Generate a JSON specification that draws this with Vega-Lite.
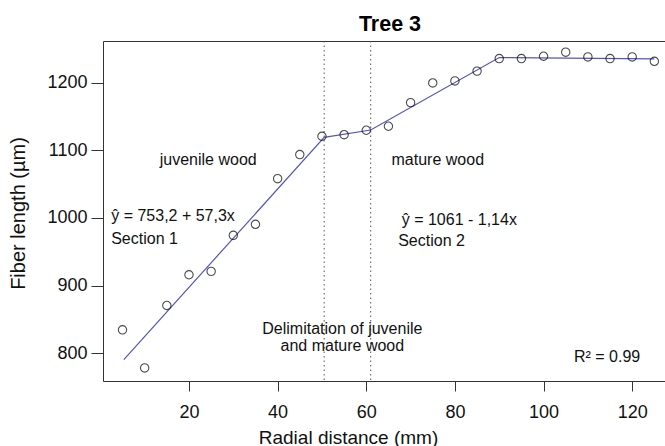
{
  "$schema": "https://vega.github.io/schema/vega-lite/v6.json",
  "width": 562,
  "height": 340,
  "autosize": {"type": "none"},
  "padding": {"left": 103, "top": 41, "right": 0, "bottom": 65},
  "background": "white",
  "config": {"view": {"stroke": null}, "font": "Liberation Sans"},
  "title": {"text": "Tree 3", "fontSize": 21.5, "fontWeight": "bold", "font": "Liberation Sans", "color": "black", "anchor": "middle", "baseline": "alphabetic", "offset": -12, "dx": 6},
  "datasets": {
    "points": [
      {"dist": 5, "fiber": 834.6}, {"dist": 10, "fiber": 778.3}, {"dist": 15, "fiber": 870.6},
      {"dist": 20, "fiber": 916}, {"dist": 25, "fiber": 921}, {"dist": 30, "fiber": 974.3},
      {"dist": 35, "fiber": 990.6}, {"dist": 40, "fiber": 1058}, {"dist": 45, "fiber": 1093.6},
      {"dist": 50, "fiber": 1120.7}, {"dist": 55, "fiber": 1123}, {"dist": 60, "fiber": 1129.6},
      {"dist": 65, "fiber": 1135.5}, {"dist": 70, "fiber": 1170.4}, {"dist": 75, "fiber": 1199.5},
      {"dist": 80, "fiber": 1202.5}, {"dist": 85, "fiber": 1217}, {"dist": 90, "fiber": 1235.5},
      {"dist": 95, "fiber": 1235.5}, {"dist": 100, "fiber": 1239}, {"dist": 105, "fiber": 1245},
      {"dist": 110, "fiber": 1238}, {"dist": 115, "fiber": 1235.5}, {"dist": 120, "fiber": 1238},
      {"dist": 125, "fiber": 1231.5}
    ],
    "fit": [
      {"dist": 5.3, "fiber": 790.6}, {"dist": 50.5, "fiber": 1119}, {"dist": 61, "fiber": 1130},
      {"dist": 90, "fiber": 1237}, {"dist": 125, "fiber": 1235}
    ],
    "delim": [{"dist": 50.5}, {"dist": 61}],
    "notesLeft": [
      {"dist": 13.4, "fiber": 1077.8, "label": "juvenile  wood"},
      {"dist": 65.7, "fiber": 1077.8, "label": "mature wood"},
      {"dist": 2.45, "fiber": 995.6, "label": "ŷ = 753,2 + 57,3x"},
      {"dist": 2.45, "fiber": 962, "label": "Section 1"},
      {"dist": 68, "fiber": 989, "label": "ŷ = 1061 - 1,14x"},
      {"dist": 67.2, "fiber": 958, "label": "Section 2"}
    ],
    "notesCenter": [
      {"dist": 54.6, "fiber": 828, "label": "Delimitation of juvenile"},
      {"dist": 54.6, "fiber": 804, "label": "and mature wood"}
    ],
    "notesRight": [
      {"dist": 121.8, "fiber": 786.7, "label": "R² = 0.99"}
    ]
  },
  "resolve": {"axis": {"x": "independent", "y": "independent"}},
  "layer": [
    {
      "data": {"name": "delim"},
      "mark": {"type": "rule", "color": "#555555", "strokeWidth": 1, "strokeDash": [1.5, 3]},
      "encoding": {
        "x": {"field": "dist", "type": "quantitative",
              "scale": {"domain": [0.6, 127.4], "nice": false, "zero": false},
              "axis": {"orient": "top", "labels": false, "ticks": false, "grid": false, "title": null, "domain": true, "domainColor": "#333333", "domainWidth": 1}}
      }
    },
    {
      "data": {"name": "fit"},
      "mark": {"type": "line", "color": "#5454c4", "strokeWidth": 1.2},
      "encoding": {
        "x": {"field": "dist", "type": "quantitative", "axis": null},
        "y": {"field": "fiber", "type": "quantitative",
              "scale": {"domain": [759, 1261.5], "nice": false, "zero": false}, "axis": null}
      }
    },
    {
      "data": {"name": "points"},
      "mark": {"type": "point", "shape": "circle", "filled": false, "color": "black", "size": 70, "strokeWidth": 1.1},
      "encoding": {
        "x": {"field": "dist", "type": "quantitative",
              "axis": {"orient": "bottom", "values": [20, 40, 60, 80, 100, 120], "grid": false, "format": "d",
                       "title": "Radial distance (mm)", "titleFontSize": 19, "titleFontWeight": "normal", "titleColor": "#111111",
                       "titleX": 245, "titleY": 62, "titleBaseline": "alphabetic", "titleAlign": "center", "titleAnchor": null,
                       "labelFontSize": 18, "labelColor": "#111111", "labelPadding": 12, "labelBaseline": "top",
                       "tickSize": 10, "tickColor": "#333333", "domainColor": "#333333", "domainWidth": 1}},
        "y": {"field": "fiber", "type": "quantitative",
              "axis": {"orient": "left", "values": [800, 900, 1000, 1100, 1200], "grid": false, "format": "d",
                       "title": "Fiber length (µm)", "titleFontSize": 20, "titleFontWeight": "normal", "titleColor": "#111111",
                       "titleX": -85, "titleY": 172, "titleAngle": 270, "titleBaseline": "middle", "titleAlign": "center",
                       "labelFontSize": 18, "labelColor": "#111111", "labelPadding": 4,
                       "tickSize": 12, "tickColor": "#333333", "domainColor": "#333333", "domainWidth": 1}}
      }
    },
    {
      "data": {"name": "notesLeft"},
      "mark": {"type": "text", "align": "left", "baseline": "alphabetic", "fontSize": 16, "color": "#111111"},
      "encoding": {
        "x": {"field": "dist", "type": "quantitative", "axis": null},
        "y": {"field": "fiber", "type": "quantitative", "axis": null},
        "text": {"field": "label"}
      }
    },
    {
      "data": {"name": "notesCenter"},
      "mark": {"type": "text", "align": "center", "baseline": "alphabetic", "fontSize": 16, "color": "#111111"},
      "encoding": {
        "x": {"field": "dist", "type": "quantitative", "axis": null},
        "y": {"field": "fiber", "type": "quantitative", "axis": null},
        "text": {"field": "label"}
      }
    },
    {
      "data": {"name": "notesRight"},
      "mark": {"type": "text", "align": "right", "baseline": "alphabetic", "fontSize": 16, "color": "#111111"},
      "encoding": {
        "x": {"field": "dist", "type": "quantitative", "axis": null},
        "y": {"field": "fiber", "type": "quantitative", "axis": null},
        "text": {"field": "label"}
      }
    }
  ]
}
